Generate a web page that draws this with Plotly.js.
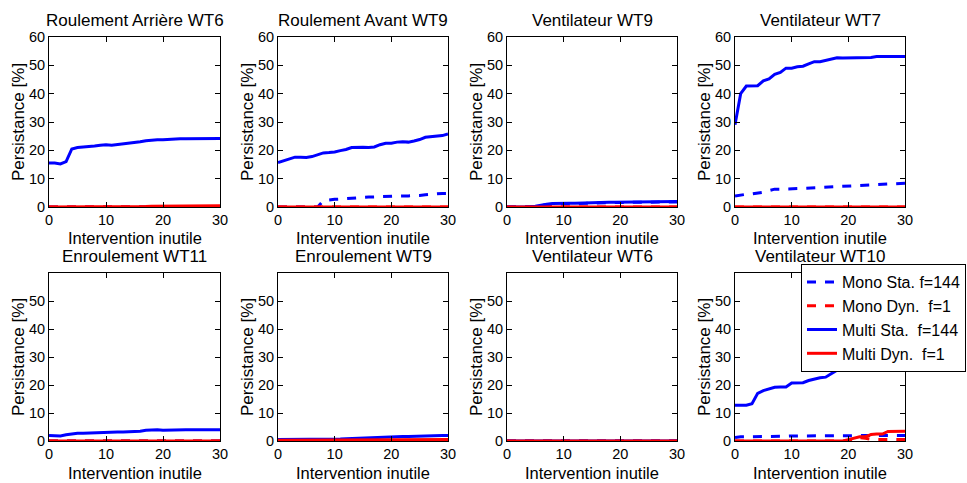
<!DOCTYPE html>
<html>
<head>
<meta charset="utf-8">
<script src="https://cdn.plot.ly/plotly-3.0.1.min.js"></script>
<style>html,body{margin:0;padding:0;background:#fff;}#chart{width:967px;height:483px;}</style>
</head>
<body>
<div id="chart"></div>
<script>
// x values (intervention inutile)
const xVals = [0,1,2,3,4,5,6,7,8,9,10,11,12,13,14,15,16,17,18,19,20,21,22,23,24,25,26,27,28,29,30];

const panelTitles = ["Roulement Arrière WT6","Roulement Avant WT9","Ventilateur WT9","Ventilateur WT7",
                     "Enroulement WT11","Enroulement WT9","Ventilateur WT6","Ventilateur WT10"];

const xAxisTitle = "Intervention inutile";
const yAxisTitle = "Persistance [%]";

const seriesNames = ["Mono Sta. f=144","Mono Dyn.\u00a0\u00a0f=1","Multi Sta.\u00a0\u00a0f=144","Multi Dyn.\u00a0\u00a0f=1"];

const yTicksTop = [0,10,20,30,40,50,60];
const yTicksBottom = [0,10,20,30,40,50];
const xTicks = [0,10,20,30];

// Panel 1: Roulement Arrière WT6
const p1MonoSta = [0,0,0,0,0,0,0,0,0,0,0,0,0,0,0,0,0,0,0,0,0,0,0,0,0,0,0,0,0,0,0];
const p1MonoDyn = [0,0,0,0,0,0,0,0,0,0,0,0,0,0,0,0,0,0,0,0,0,0,0,0,0,0,0,0,0,0,0];
const p1MultiSta = [15.5,15.5,15.2,16,20.5,21,21.2,21.3,21.5,21.8,22,21.8,22,22.3,22.6,22.8,23,23.4,23.6,23.7,23.7,23.9,24,24.1,24.1,24.1,24,24.1,24.2,24.2,24.2];
const p1MultiDyn = [0,0,0,0,0,0,0,0,0,0,0.2,0.2,0.2,0.2,0.2,0.2,0.2,0.2,0.3,0.3,0.4,0.4,0.4,0.4,0.4,0.4,0.4,0.4,0.4,0.4,0.4];

// Panel 2: Roulement Avant WT9
const p2MonoSta = [0,0,0,0,0,0,0,0,2.2,2.5,2.7,2.8,3.0,3.2,3.3,3.4,3.5,3.6,3.7,3.8,3.8,3.9,3.9,3.9,3.9,4.1,4.3,4.5,4.7,4.8,4.8];
const p2MonoDyn = [0,0,0,0,0,0,0,0,0,0,0,0,0,0,0,0,0,0,0,0,0,0,0,0,0,0,0,0,0,0,0];
const p2MultiSta = [15.7,16.3,17,17.6,17.6,17.5,17.8,18.5,19.1,19.2,19.4,19.9,20.3,21,21.1,21.1,21,21.2,22,22.5,22.5,22.9,23,22.9,23.3,23.8,24.6,24.8,24.8,25.2,25.8];
const p2MultiDyn = [0,0,0,0,0,0,0,0,0,0,0,0,0,0,0,0,0,0,0,0,0,0,0,0,0,0,0,0,0,0,0];

// Panel 3: Ventilateur WT9
const p3MonoSta = [0,0,0,0,0,0.2,0.5,0.8,1.0,1.1,1.1,1.2,1.2,1.3,1.3,1.4,1.5,1.5,1.6,1.6,1.6,1.6,1.6,1.7,1.7,1.7,1.7,1.7,1.8,1.8,1.8];
const p3MonoDyn = [0,0,0,0,0,0,0,0,0,0,0,0,0,0,0,0,0,0,0,0,0,0,0,0,0,0,0,0,0,0,0];
const p3MultiSta = [0,0,0,0,0,0.3,0.7,1.0,1.2,1.3,1.3,1.3,1.3,1.4,1.4,1.5,1.6,1.6,1.7,1.7,1.7,1.7,1.7,1.8,1.8,1.8,1.8,1.8,1.9,1.9,1.9];
const p3MultiDyn = [0,0,0,0,0,0,0,0,0,0,0,0,0,0,0,0,0,0,0,0,0,0,0,0,0,0,0,0,0,0,0];

// Panel 4: Ventilateur WT7
const p4MonoSta = [3.9,4.3,4.5,4.6,4.8,5.2,5.8,6.3,6.3,6.3,6.4,6.5,6.6,6.7,6.8,6.9,7.0,7.1,7.2,7.2,7.3,7.4,7.5,7.6,7.6,7.8,8.0,8.1,8.2,8.3,8.4];
const p4MonoDyn = [0,0,0,0,0,0,0,0,0,0,0,0,0,0,0,0,0,0,0,0,0,0,0,0,0,0,0,0,0,0,0];
const p4MultiSta = [29,40,42.7,42.8,42.8,44.5,45.2,46.8,47.5,49,49,49.5,49.7,50.5,51.3,51.3,51.8,52.3,52.7,52.6,52.6,52.6,52.6,52.7,52.8,53.1,53.1,53.1,53.1,53.1,53.1];
const p4MultiDyn = [0,0,0,0,0,0,0,0,0,0,0,0,0,0,0,0,0,0,0,0,0,0,0,0,0,0,0,0,0,0,0];

// Panel 5: Enroulement WT11
const p5MonoSta = [0,0,0,0,0,0,0,0,0,0,0,0,0,0,0,0,0,0,0,0,0,0,0,0,0,0,0,0,0,0,0];
const p5MonoDyn = [0,0,0,0,0,0,0,0,0,0,0,0,0,0,0,0,0,0,0,0,0,0,0,0,0,0,0,0,0,0,0];
const p5MultiSta = [2,2,1.8,2.2,2.6,2.8,2.8,2.9,2.9,3.0,3.0,3.1,3.2,3.2,3.3,3.3,3.5,3.8,4.0,4.0,3.8,3.9,3.9,3.9,4.0,4.0,4.0,4.0,4.0,4.0,4.0];
const p5MultiDyn = [0,0,0,0,0,0,0,0,0,0,0,0,0,0,0,0,0,0,0,0,0,0,0,0,0,0,0,0,0,0,0];

// Panel 6: Enroulement WT9
const p6MonoSta = [0,0,0,0,0,0,0,0,0,0,0,0,0,0,0,0,0,0,0,0,0,0,0,0,0,0,0,0,0,0,0];
const p6MonoDyn = [0,0,0,0,0,0,0,0,0,0,0,0,0,0,0,0,0,0,0,0,0,0,0,0,0,0,0,0,0,0,0];
const p6MultiSta = [0.5,0.5,0.5,0.5,0.5,0.5,0.5,0.5,0.5,0.5,0.6,0.7,0.8,0.9,1.0,1.0,1.1,1.2,1.3,1.4,1.5,1.5,1.6,1.6,1.7,1.8,1.9,2.0,2.0,2.0,2.0];
const p6MultiDyn = [0.3,0.3,0.3,0.3,0.3,0.3,0.3,0.3,0.3,0.3,0.3,0.3,0.3,0.3,0.4,0.4,0.4,0.4,0.5,0.5,0.5,0.5,0.5,0.5,0.5,0.5,0.5,0.5,0.5,0.5,0.5];

// Panel 7: Ventilateur WT6
const p7MonoSta = [0,0,0,0,0,0,0.2,0.2,0.2,0.2,0.2,0.2,0.2,0.2,0,0,0,0,0,0,0,0,0,0,0,0,0,0,0,0,0];
const p7MonoDyn = [0,0,0,0,0,0,0,0,0,0,0,0,0,0,0,0,0,0,0,0,0,0,0,0,0,0,0,0,0,0,0];
const p7MultiSta = [0,0,0,0,0,0,0,0,0,0,0,0,0,0,0,0,0,0,0,0,0,0,0,0,0,0,0,0,0,0,0];
const p7MultiDyn = [0,0,0,0,0,0,0,0,0,0,0,0,0,0,0,0,0,0,0,0,0,0,0,0,0,0,0,0,0,0,0];

// Panel 8: Ventilateur WT10
const p8MonoSta = [1.2,1.5,1.5,1.5,1.6,1.6,1.7,1.7,1.7,1.7,1.8,1.8,1.8,1.8,1.8,1.8,1.8,1.8,1.8,1.8,1.9,1.9,1.9,1.9,1.9,1.9,2.0,2.0,2.0,2.0,2.0];
const p8MonoDyn = [0,0,0,0,0,0,0,0,0,0,0,0,0,0,0,0,0,0,0,0,0,0.8,1.2,1.0,0.6,0.5,0.5,0.5,0.5,0.5,0.5];
const p8MultiSta = [12.8,12.8,12.8,13.3,17,18,18.7,19.2,19.3,19.3,20.7,20.7,20.8,21.6,22.2,22.6,22.8,24.1,25.3,26.1,26.3,26.4,27.1,27.3,27.3,27.4,28,28.5,28.6,28.6,28.6];
const p8MultiDyn = [0,0,0,0,0,0,0,0,0,0,0,0,0,0,0,0,0,0,0,0,0.5,1.0,1.5,1.5,2.3,2.5,2.5,3.4,3.5,3.5,3.5];

const panels = [
  [p1MonoSta,p1MonoDyn,p1MultiSta,p1MultiDyn],
  [p2MonoSta,p2MonoDyn,p2MultiSta,p2MultiDyn],
  [p3MonoSta,p3MonoDyn,p3MultiSta,p3MultiDyn],
  [p4MonoSta,p4MonoDyn,p4MultiSta,p4MultiDyn],
  [p5MonoSta,p5MonoDyn,p5MultiSta,p5MultiDyn],
  [p6MonoSta,p6MonoDyn,p6MultiSta,p6MultiDyn],
  [p7MonoSta,p7MonoDyn,p7MultiSta,p7MultiDyn],
  [p8MonoSta,p8MonoDyn,p8MultiSta,p8MultiDyn]
];

const colors = ["#0000ff","#ff0000","#0000ff","#ff0000"];
const dashes = ["dash","dash","solid","solid"];

const W = 967, H = 483;
const colPx = [[49,220],[278,448],[507,677],[735,905]];
const rowPx = [[37,207],[273,441]];
const FONT = "Liberation Sans, Arial, Helvetica, sans-serif";
const txt = (size) => ({family: FONT, size: size, color: "#000"});

const traces = [];
const layout = {
  width: W, height: H,
  margin: {l:0,r:0,t:0,b:0},
  paper_bgcolor: "#fff", plot_bgcolor: "#fff",
  font: txt(14),
  showlegend: true,
  legend: {
    x: 801/W, y: 1-264/H, xanchor: "left", yanchor: "top",
    bgcolor: "#fff", bordercolor: "#000", borderwidth: 1,
    font: txt(16),
    tracegroupgap: 0, itemwidth: 30
  },
  annotations: []
};

for (let p = 0; p < 8; p++) {
  const row = Math.floor(p/4), col = p % 4;
  const idx = p === 0 ? "" : String(p+1);
  const xa = "x"+idx, ya = "y"+idx;
  const [x0,x1] = colPx[col];
  const [y0,y1] = rowPx[row];
  layout["xaxis"+idx] = {
    domain: [x0/W, x1/W], anchor: ya, range: [0,30],
    tickvals: xTicks, ticks: "inside", ticklen: 5, tickcolor: "#000",
    showline: true, linecolor: "#000", linewidth: 1, mirror: "ticks",
    showgrid: false, zeroline: false,
    tickfont: txt(14.5)
  };
  layout["yaxis"+idx] = {
    domain: [1-y1/H, 1-y0/H], anchor: xa, range: [0,60],
    tickvals: row === 0 ? yTicksTop : yTicksBottom,
    ticks: "inside", ticklen: 5, tickcolor: "#000",
    showline: true, linecolor: "#000", linewidth: 1, mirror: "ticks",
    showgrid: false, zeroline: false,
    tickfont: txt(14.5)
  };
  // panel title
  layout.annotations.push({
    text: panelTitles[p], xref: "paper", yref: "paper",
    x: (x0+x1)/2/W, y: 1-y0/H, xanchor: "center", yanchor: "bottom",
    yshift: 5, showarrow: false, font: txt(17)
  });
  // x-axis title
  if (row === 0) {
    layout.annotations.push({
      text: xAxisTitle, xref: "paper", yref: "paper",
      x: (x0+x1)/2/W, y: 1-y1/H, xanchor: "center", yanchor: "middle",
      yshift: -31, showarrow: false, font: txt(16.5), borderpad: 0
    });
  } else {
    layout.annotations.push({
      text: xAxisTitle, xref: "paper", yref: "paper",
      x: (x0+x1)/2/W, y: 0, xanchor: "center", yanchor: "bottom",
      yshift: 0, showarrow: false, font: txt(16.5), borderpad: 0
    });
  }
  // y-axis title
  layout.annotations.push({
    text: yAxisTitle, xref: "paper", yref: "paper", textangle: -90,
    x: x0/W, y: 1-(y0+y1)/2/H, xanchor: "center", yanchor: "middle",
    xshift: -31, showarrow: false, font: txt(17)
  });
  for (let s = 0; s < 4; s++) {
    traces.push({
      type: "scatter", mode: "lines",
      x: xVals, y: panels[p][s], xaxis: xa, yaxis: ya,
      name: seriesNames[s], legendgroup: "s"+s,
      showlegend: p === 7,
      line: {color: colors[s], width: 3, dash: dashes[s]},
      cliponaxis: true, hoverinfo: "skip"
    });
  }
}

Plotly.newPlot("chart", traces, layout, {staticPlot: true, displayModeBar: false});
</script>
</body>
</html>
